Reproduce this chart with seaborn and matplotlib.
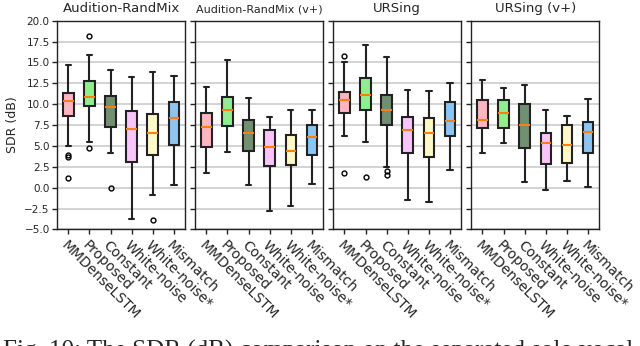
import numpy as np
import matplotlib
matplotlib.use("Agg")
import matplotlib.pyplot as plt
import seaborn as sns

methods = ["MMDenseLSTM", "Proposed", "Constant", "White-noise", "White-noise*", "Mismatch"]
titles = ["Audition-RandMix", "Audition-RandMix (v+)", "URSing", "URSing (v+)"]
box_colors = ["#ffb6c1", "#90ee90", "#718f71", "#f9c4f9", "#fdf9c6", "#8cc4f2"]

# Audition-RandMix
aud_lo = [5.0, 5.5, 4.2, -3.8, -0.9, 0.3]
aud_q1 = [8.6, 9.75, 7.25, 3.05, 3.9, 5.15]
aud_med = [10.4, 10.9, 9.65, 7.05, 6.6, 8.3]
aud_q3 = [11.35, 12.75, 10.95, 9.2, 8.8, 10.3]
aud_hi = [14.7, 15.95, 14.1, 13.3, 13.9, 13.35]
aud_out = [[3.9, 3.7, 1.1], [18.2, 4.75], [-0.05], [], [-3.9], []]

# Audition-RandMix (v+)
audv_lo = [1.7, 4.3, 0.35, -2.85, -2.25, 0.45]
audv_q1 = [4.9, 7.35, 4.45, 2.6, 2.75, 3.95]
audv_med = [7.3, 9.3, 6.5, 4.85, 4.45, 6.1]
audv_q3 = [8.95, 10.85, 8.1, 6.9, 6.3, 7.45]
audv_hi = [12.05, 15.3, 10.7, 8.5, 9.35, 9.25]
audv_out = [[], [], [], [], [], []]

# URSing
urs_lo = [6.25, 5.5, 2.5, -1.45, -1.75, 2.1]
urs_q1 = [8.95, 9.35, 7.5, 4.2, 3.65, 6.2]
urs_med = [10.5, 11.1, 9.3, 6.9, 6.5, 7.95]
urs_q3 = [11.5, 13.1, 11.05, 8.45, 8.3, 10.3]
urs_hi = [15.1, 17.1, 15.65, 11.65, 11.55, 12.5]
urs_out = [[15.75, 1.7], [1.25], [1.95, 1.55], [], [], []]

# URSing (v+)
ursv_lo = [4.1, 5.3, 0.7, -0.3, 0.85, 0.1]
ursv_q1 = [7.15, 7.2, 4.75, 2.85, 2.9, 4.15]
ursv_med = [8.15, 9.0, 7.55, 5.3, 5.1, 6.65]
ursv_q3 = [10.5, 10.5, 10.0, 6.6, 7.5, 7.9]
ursv_hi = [12.85, 11.95, 12.25, 9.25, 8.6, 10.65]
ursv_out = [[], [], [], [], [], []]

panels = [
    (aud_lo, aud_q1, aud_med, aud_q3, aud_hi, aud_out),
    (audv_lo, audv_q1, audv_med, audv_q3, audv_hi, audv_out),
    (urs_lo, urs_q1, urs_med, urs_q3, urs_hi, urs_out),
    (ursv_lo, ursv_q1, ursv_med, ursv_q3, ursv_hi, ursv_out),
]

sns.set_theme(style="ticks", rc={"axes.grid": True, "grid.color": "#cccccc",
                                 "grid.linewidth": 1.2, "axes.edgecolor": "#222222",
                                 "axes.linewidth": 1.0})
plt.rcParams["font.family"] = ["DejaVu Sans"]

fig, axes = plt.subplots(1, 4, figsize=(6.4, 3.46), dpi=100, sharey=True)
fig.subplots_adjust(left=0.0895, right=0.936, top=0.940, bottom=0.337, wspace=0.082)

palette = sns.color_palette(box_colors)
edge = "#222222"

for i, ax in enumerate(axes):
    lo, q1, med, q3, hi, out = panels[i]
    stats = []
    for j in range(len(methods)):
        stats.append({"whislo": lo[j], "q1": q1[j], "med": med[j], "q3": q3[j],
                      "whishi": hi[j], "fliers": out[j]})
    bp = ax.bxp(stats, positions=np.arange(1, len(methods) + 1), widths=0.5,
                patch_artist=True,
                boxprops=dict(edgecolor=edge, linewidth=1.5),
                whiskerprops=dict(color=edge, linewidth=1.5),
                capprops=dict(color=edge, linewidth=1.5),
                medianprops=dict(color="#ff7f0e", linewidth=1.5),
                flierprops=dict(marker="o", markersize=3.5, markerfacecolor="none",
                                markeredgecolor="black", markeredgewidth=1.0))
    for patch, c in zip(bp["boxes"], palette):
        patch.set_facecolor(c)

    ax.set_axisbelow(True)
    ax.xaxis.grid(False)
    ax.set_xlim(0.48, 6.52)
    ax.set_ylim(-5, 20)
    ax.set_yticks(np.arange(-5, 20.1, 2.5))
    ax.set_xticks(np.arange(1, len(methods) + 1))
    ax.set_xticklabels(methods, rotation=-45, ha="left", va="top",
                       rotation_mode="anchor", fontsize=10)
    ax.tick_params(axis="y", labelsize=7.5, length=3.5, width=1, color=edge, pad=2)
    ax.tick_params(axis="x", length=3.5, width=1, color=edge, pad=3)
    for s in ax.spines.values():
        s.set_visible(True)
        s.set_color(edge)
    ax.set_title(titles[i], fontsize=8 if i == 1 else 9.5)

axes[0].set_ylabel("SDR (dB)", fontsize=9)

# caption from the paper, cut at the bottom edge as in the source image
fig.text(0.004, -12 / 346, "Fig. 10: The SDR (dB) comparison on the separated solo vocal",
         family=["Liberation Serif"], fontsize=18, va="baseline", ha="left")

fig.savefig("out.png", dpi=100)
